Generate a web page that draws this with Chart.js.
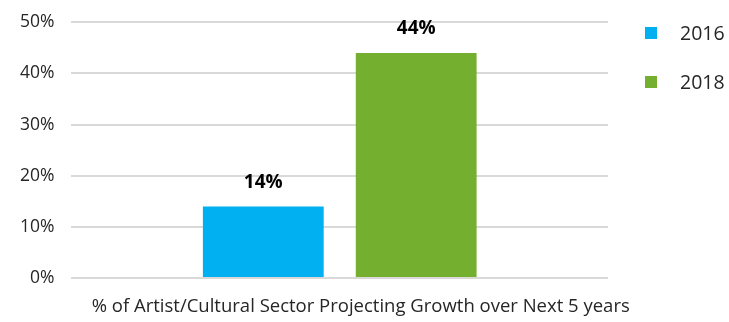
<!DOCTYPE html>
<html>
<head>
<meta charset="utf-8">
<script src="https://cdn.jsdelivr.net/npm/chart.js@4.4.1/dist/chart.umd.min.js"></script>
<style>
  html, body { margin: 0; padding: 0; background: #fff; }
  #wrap { width: 729px; height: 322px; position: relative; }
</style>
</head>
<body>
<div id="wrap"><canvas id="growth-chart"></canvas></div>
<script>
const categories = ['% of Artist/Cultural Sector Projecting Growth over Next 5 years'];
const seriesNames = ['2016', '2018'];
const values2016 = [14];
const values2018 = [44];
const seriesColors = ['#00B0F0', '#74AF2F'];
const yTicks = [0, 10, 20, 30, 40, 50];

const FONT = '"Open Sans", Lato, sans-serif';
const TEXT = '#262626';

// value labels above each bar
const barLabels = {
    id: 'barLabels',
    afterDatasetsDraw(chart) {
        const ctx = chart.ctx;
        ctx.save();
        ctx.font = 'bold 19px ' + FONT;
        ctx.fillStyle = '#000';
        ctx.textAlign = 'center';
        ctx.textBaseline = 'middle';
        chart.data.datasets.forEach((ds, i) => {
            chart.getDatasetMeta(i).data.forEach((bar, j) => {
                ctx.fillText(ds.data[j] + '%', bar.x, bar.y - 24);
            });
        });
        ctx.restore();
    }
};

// legend on the right plus the category name under the axis
const sideLegend = {
    id: 'sideLegend',
    afterDraw(chart) {
        const ctx = chart.ctx;
        const area = chart.chartArea;
        ctx.save();
        ctx.font = '19.5px ' + FONT;
        ctx.textBaseline = 'middle';
        chart.data.datasets.forEach((ds, i) => {
            const y = 33 + i * 49;
            ctx.fillStyle = ds.backgroundColor;
            ctx.fillRect(645, y - 6, 12, 12);
            ctx.fillStyle = TEXT;
            ctx.fillText(ds.label, 680, y + 1);
        });
        ctx.font = '18.5px ' + FONT;
        ctx.textAlign = 'center';
        ctx.fillText(chart.data.labels[0], (area.left + area.right) / 2 + 21, area.bottom + 29);
        ctx.restore();
    }
};

new Chart(document.getElementById('growth-chart'), {
    type: 'bar',
    data: {
        labels: categories,
        datasets: [
            { label: seriesNames[0], data: values2016, backgroundColor: seriesColors[0] },
            { label: seriesNames[1], data: values2018, backgroundColor: seriesColors[1] }
        ]
    },
    options: {
        responsive: true,
        maintainAspectRatio: false,
        animation: false,
        datasets: { bar: { categoryPercentage: 0.57, barPercentage: 0.79 } },
        layout: { padding: { top: 0, right: 121, bottom: 36, left: 3 } },
        plugins: {
            legend: { display: false },
            tooltip: { enabled: false }
        },
        scales: {
            x: {
                grid: { display: false },
                border: { display: false },
                ticks: { display: false }
            },
            y: {
                min: 0,
                max: 50,
                afterBuildTicks(axis) { axis.ticks = yTicks.map(v => ({ value: v })); },
                grid: { color: '#D9D9D9', lineWidth: 2, drawTicks: false },
                border: { display: false },
                ticks: {
                    color: TEXT,
                    font: { family: FONT, size: 17.5, lineHeight: 0.6 },
                    padding: 17,
                    callback: v => v + '%'
                }
            }
        }
    },
    plugins: [barLabels, sideLegend]
});
</script>
</body>
</html>
